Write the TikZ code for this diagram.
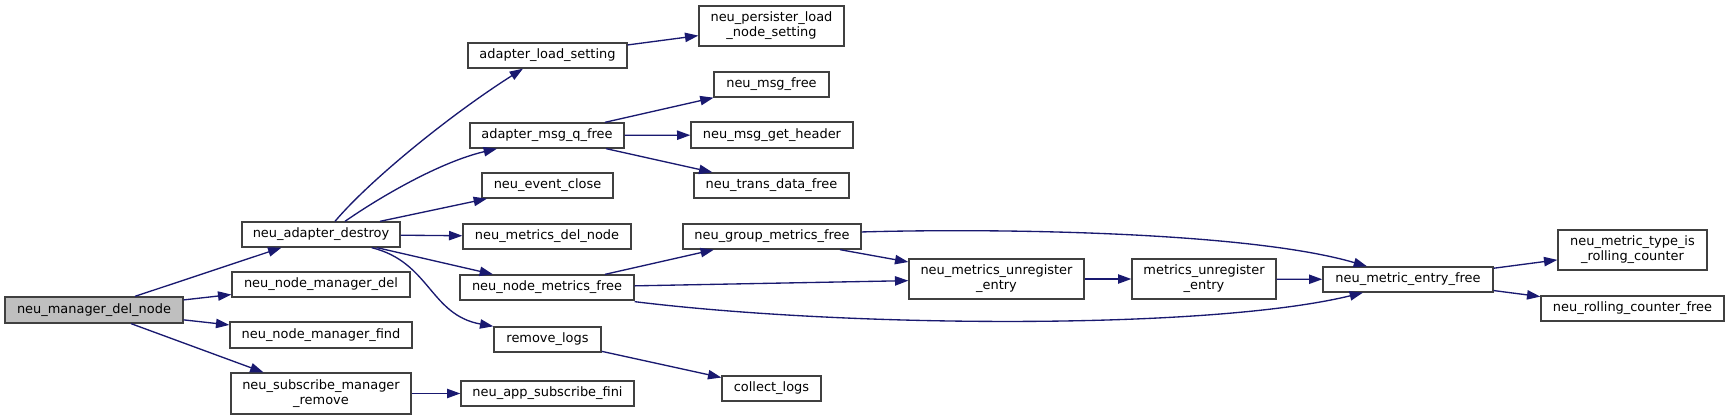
\documentclass[tikz,border=0pt]{standalone}
\usepackage{fontspec}
\setmainfont{DejaVu Sans}
\usetikzlibrary{arrows.meta}
\definecolor{edgecol}{HTML}{191970}
\definecolor{boxcol}{HTML}{404040}
\definecolor{rootfill}{HTML}{BFBFBF}
\tikzset{
  fn/.style={draw=boxcol, line width=1pt, fill=white, rectangle, inner sep=0pt, align=center, font=\fontsize{9.7}{11.3}\selectfont},
  sz/.style 2 args={minimum width=#1*0.75pt, minimum height=#2*0.75pt},
  rootbox/.style={fill=rootfill},
  edge/.style={draw=edgecol, line width=1pt, -{Triangle[length=10pt,width=7pt]}},
}
\begin{document}
\begin{tikzpicture}[x=0.75pt,y=-0.75pt]
\useasboundingbox[fill=white] (0,0) rectangle (1729,420);
% column 1
\node[fn, rootbox, sz={178}{26}] (root) at (94,310) {neu\_manager\_del\_node};
% column 2
\node[fn, sz={158}{25}] (ad)  at (321,234.5) {neu\_adapter\_destroy};
\node[fn, sz={178}{25}] (nmd) at (321,284.5) {neu\_node\_manager\_del};
\node[fn, sz={182}{26}] (nmf) at (321,335) {neu\_node\_manager\_find};
\node[fn, sz={180}{41}] (smr) at (321,393.5) {neu\_subscribe\_manager\\\_remove};
% column 3
\node[fn, sz={159}{25}] (als) at (547.5,55.5) {adapter\_load\_setting};
\node[fn, sz={154}{25}] (amq) at (547,135.5) {adapter\_msg\_q\_free};
\node[fn, sz={131}{25}] (nec) at (547.5,185.5) {neu\_event\_close};
\node[fn, sz={168}{25}] (mdn) at (547,236.5) {neu\_metrics\_del\_node};
\node[fn, sz={174}{25}] (nmfree) at (547,287.5) {neu\_node\_metrics\_free};
\node[fn, sz={107}{25}] (rl)  at (547.5,339.5) {remove\_logs};
\node[fn, sz={173}{25}] (asf) at (547.5,393.5) {neu\_app\_subscribe\_fini};
% column 4
\node[fn, sz={145}{40}] (pl)  at (771.5,26) {neu\_persister\_load\\\_node\_setting};
\node[fn, sz={115}{25}] (mf)  at (771.5,84.5) {neu\_msg\_free};
\node[fn, sz={162}{26}] (mgh) at (772,135) {neu\_msg\_get\_header};
\node[fn, sz={155}{25}] (tdf) at (771.5,185.5) {neu\_trans\_data\_free};
\node[fn, sz={178}{25}] (gmf) at (772,236.5) {neu\_group\_metrics\_free};
\node[fn, sz={99}{25}]  (cl)  at (771.5,388.5) {collect\_logs};
% column 5/6
\node[fn, sz={175}{40}] (nmue) at (996.5,279) {neu\_metrics\_unregister\\\_entry};
\node[fn, sz={144}{40}] (mue)  at (1204,279) {metrics\_unregister\\\_entry};
% column 7
\node[fn, sz={170}{25}] (mef)  at (1408,279.5) {neu\_metric\_entry\_free};
% column 8
\node[fn, sz={149}{40}] (mtrc) at (1632.5,250) {neu\_metric\_type\_is\\\_rolling\_counter};
\node[fn, sz={183}{25}] (rcf)  at (1632.5,308.5) {neu\_rolling\_counter\_free};

% edges
\draw[edge] (root) -- (ad);
\draw[edge] (root) -- (nmd);
\draw[edge] (root) -- (nmf);
\draw[edge] (root) -- (smr);
\draw[edge] (smr) -- (asf);
\draw[edge] ([xshift=10.5pt]ad.north) .. controls (370,180) and (450,115) .. ([xshift=-18.4pt]als.south);
\draw[edge] ([xshift=18pt]ad.north) .. controls (380,197) and (440,162) .. ([xshift=-37.5pt]amq.south);
\draw[edge] ([xshift=44.25pt]ad.north) -- ([xshift=-45.4pt]nec.south);
\draw[edge] (ad) -- (mdn);
\draw[edge] ([xshift=42pt]ad.south) -- ([xshift=-40.5pt]nmfree.north);
\draw[edge] ([xshift=38pt]ad.south) .. controls (430,262) and (430,315) .. ([xshift=0pt]rl.north west);
\draw[edge] (als) -- (pl);
\draw[edge] (amq) -- (mf);
\draw[edge] (amq) -- (mgh);
\draw[edge] (amq) -- (tdf);
\draw[edge] (nmfree) -- (gmf);
\draw[edge] (nmfree) -- (nmue);
\draw[edge] ([yshift=-0.75pt]nmfree.south east) .. controls (850,328) and (1210,330) .. ([xshift=-33.75pt]mef.south);
\draw[edge] ([xshift=51pt]gmf.south) -- ([yshift=12.75pt]nmue.west);
\draw[edge] ([yshift=3.4pt]gmf.east) .. controls (1000,228) and (1250,232) .. ([xshift=-30.75pt]mef.north);
\draw[edge] (nmue) -- (mue);
\draw[edge] (mue) -- (mef);
\draw[edge] (mef) -- (mtrc);
\draw[edge] (mef) -- (rcf);
\draw[edge] (rl) -- (cl);
\end{tikzpicture}
\end{document}
